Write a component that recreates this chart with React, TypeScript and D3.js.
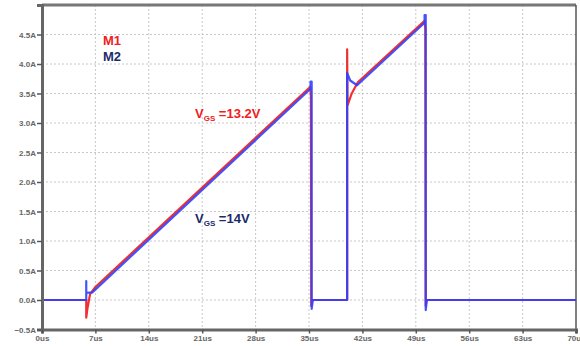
import React, { useEffect, useRef } from 'react';
import * as d3 from 'd3';

// time in us, current in A
const m1Time = [0, 5.8, 5.8, 5.95, 6.3, 7.0, 35.15, 35.25, 35.3, 35.4, 40.0, 40.0, 40.05, 40.6, 41.4, 50.15, 50.25, 50.3, 50.4, 70];
const m1Amps = [0, 0, -0.3, -0.15, 0.1, 0.22, 3.61, 3.45, -0.1, 0, 0, 4.25, 3.3, 3.5, 3.69, 4.73, 4.6, -0.1, 0, 0];

const m2Time = [0, 5.8, 5.8, 5.8, 6.6, 35.2, 35.2, 35.35, 35.35, 35.5, 40.0, 40.0, 40.4, 41.3, 50.15, 50.15, 50.3, 50.3, 50.45, 70];
const m2Amps = [0, 0, 0.32, 0.12, 0.13, 3.58, 3.7, 3.7, -0.15, 0, 0, 3.85, 3.72, 3.64, 4.7, 4.83, 4.83, -0.17, 0, 0];

const xTicks = [0, 7, 14, 21, 28, 35, 42, 49, 56, 63, 70];
const yTicks = [-0.5, 0, 0.5, 1, 1.5, 2, 2.5, 3, 3.5, 4, 4.5];

const W = 580;
const H = 346;
const left = 42;
const right = 576;
const top = 5;
const bottom = 329.5;

export default function App() {
  const ref = useRef<SVGSVGElement>(null);

  useEffect(() => {
    const svg = d3.select(ref.current);
    svg.selectAll('*').remove();

    const x = d3.scaleLinear().domain([0, 70]).range([left, right]);
    const y = d3.scaleLinear().domain([-0.5, 5.0]).range([bottom, top]);

    svg.append('rect').attr('width', W).attr('height', H).attr('fill', '#fff');

    // grid
    const grid = svg.append('g').attr('stroke', '#c8c8c8').attr('stroke-width', 1).attr('stroke-dasharray', '2,2');
    grid.selectAll('line.v').data(xTicks.slice(1, -1)).enter().append('line')
      .attr('x1', d => x(d)).attr('x2', d => x(d)).attr('y1', top).attr('y2', bottom);
    grid.selectAll('line.h').data(yTicks.slice(1)).enter().append('line')
      .attr('x1', left).attr('x2', right).attr('y1', d => y(d)).attr('y2', d => y(d));

    // frame
    svg.append('line').attr('x1', left).attr('x2', right).attr('y1', top).attr('y2', top)
      .attr('stroke', '#777').attr('stroke-width', 3);
    svg.append('line').attr('x1', right).attr('x2', right).attr('y1', top).attr('y2', bottom)
      .attr('stroke', '#555').attr('stroke-width', 1.5);

    // traces
    const line = d3.line<[number, number]>().x(d => x(d[0])).y(d => y(d[1]));
    const m1 = m1Time.map((t, i) => [t, m1Amps[i]] as [number, number]);
    const m2 = m2Time.map((t, i) => [t, m2Amps[i]] as [number, number]);
    svg.append('path').attr('d', line(m1)).attr('fill', 'none').attr('stroke', '#f03030')
      .attr('stroke-width', 2.2).attr('stroke-linejoin', 'round');
    svg.append('path').attr('d', line(m2)).attr('fill', 'none').attr('stroke', '#3040ff')
      .attr('stroke-width', 2.2).attr('stroke-linejoin', 'round').attr('opacity', 0.9);

    // axes
    const yAxis = svg.append('g').attr('transform', `translate(${left},0)`)
      .call(d3.axisLeft(y).tickValues(yTicks).tickSize(5).tickPadding(1).tickFormat(d => d3.format('.1f')(d as number) + 'A'));
    const xAxis = svg.append('g').attr('transform', `translate(0,${bottom})`)
      .call(d3.axisBottom(x).tickValues(xTicks).tickSize(4).tickPadding(3).tickFormat(d => d + 'us'));
    [yAxis, xAxis].forEach(a => {
      a.select('.domain').attr('stroke', '#666').attr('stroke-width', 3);
      a.selectAll('.tick line').attr('stroke', '#555').attr('stroke-width', 1.5);
      a.selectAll('.tick text').attr('fill', '#666').attr('font-family', 'Arial, Liberation Sans, sans-serif')
        .attr('font-size', 8).attr('font-weight', 'bold');
    });
    xAxis.selectAll('.tick text').attr('dy', '0.6em');

    // labels
    const lab = (tx: number, ty: number, s: string, c: string) =>
      svg.append('text').attr('x', tx).attr('y', ty).attr('fill', c).attr('font-family', 'Arial, Liberation Sans, sans-serif')
        .attr('font-size', 13).attr('font-weight', 'bold').text(s);
    lab(103, 45, 'M1', '#f02020');
    lab(103, 61, 'M2', '#1a2a6a');

    const vgs = (tx: number, ty: number, val: string, c: string) => {
      const t = svg.append('text').attr('x', tx).attr('y', ty).attr('fill', c)
        .attr('font-family', 'Arial, Liberation Sans, sans-serif').attr('font-weight', 'bold').attr('font-size', 13);
      t.append('tspan').text('V');
      t.append('tspan').attr('font-size', 8).attr('dy', 3).text('GS');
      t.append('tspan').attr('dy', -3).text(' =' + val);
    };
    vgs(195, 118, '13.2V', '#f02020');
    vgs(195, 223, '14V', '#1a2a6a');
  }, []);

  return (
    <svg ref={ref} width={W} height={H} style={{ position: 'absolute', left: 0, top: 0 }} />
  );
}
